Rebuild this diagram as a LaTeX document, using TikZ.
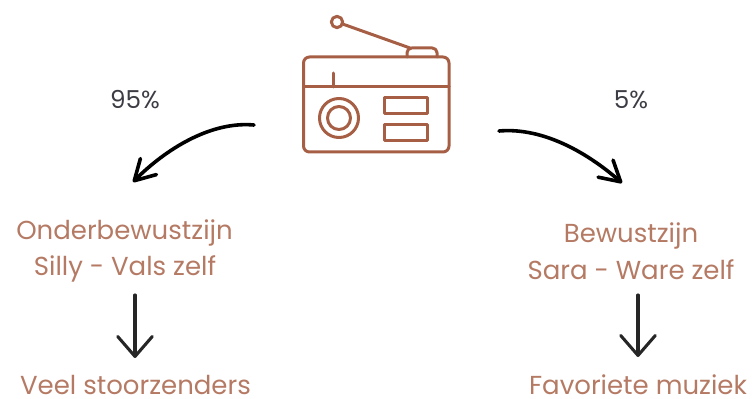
\documentclass[tikz,border=0pt]{standalone}
\usepackage{fontspec}
\setmainfont{Poppins}
\usetikzlibrary{arrows.meta}
\definecolor{icon}{HTML}{A65F45}
\definecolor{label}{HTML}{B57A64}
\definecolor{pct}{HTML}{3C3C44}
\tikzset{
  x=0.75pt,y=-0.75pt,
  iconline/.style={draw=icon,line width=2.25pt,line cap=round,line join=round},
  lab/.style={text=label,anchor=base,inner sep=0pt,font=\fontsize{19.5}{22}\selectfont},
  pctlab/.style={text=pct,anchor=base,inner sep=0pt,font=\fontsize{18.5}{22}\selectfont},
  curved/.style={draw=black,line width=2.7pt,line cap=round,-{Straight Barb[length=15pt,width=17pt,round]}},
  down/.style={draw=black!85,line width=2.3pt,line cap=round,-{Straight Barb[length=15pt,width=26pt,round]}},
}
\begin{document}
\begin{tikzpicture}
\useasboundingbox (0,0) rectangle (753,399);
% radio icon
\draw[iconline,rounded corners=4.5pt] (303.5,57) rectangle (449,152);
\draw[iconline] (303.5,87) -- (449,87);
\draw[iconline] (333,73) -- (333,87);
\draw[iconline] (339,118) circle[radius=19.5];
\draw[iconline] (339,118) circle[radius=11.5];
\draw[iconline] (384,98) rectangle (427,114);
\draw[iconline] (384,125) rectangle (427,141);
\node[circle,iconline,minimum size=8.5pt,inner sep=0pt] (ball) at (337,22) {};
\coordinate (mast) at (410,48);
\draw[iconline] (ball) -- (mast);
\draw[iconline,rounded corners=3.5pt] (407,57) -- (407,48) -- (437,48) -- (437,57);
% labels
\node[pctlab] (p95) at (135,109) {95\%};
\node[pctlab] (p5) at (631,109) {5\%};
\node[lab] (onder) at (124.5,239) {Onderbewustzijn};
\node[lab] (silly) at (125,275) {Silly - Vals zelf};
\node[lab] (veel) at (135.5,394.5) {Veel stoorzenders};
\node[lab] (bew) at (631,243) {Bewustzijn};
\node[lab] (sara) at (631,279) {Sara - Ware zelf};
\node[lab] (fav) at (638,394.5) {Favoriete muziek};
% connector ends
\coordinate (la) at (254,125);
\coordinate (lb) at (133,182);
\coordinate (ra) at (499,131);
\coordinate (rb) at (622,183);
\coordinate (dl1) at (135,295);
\coordinate (dl2) at (135,358);
\coordinate (dr1) at (638,295);
\coordinate (dr2) at (638,357);
\draw[curved] (la) .. controls (210,121) and (165,150) .. (lb);
\draw[curved] (ra) .. controls (545,127) and (590,155) .. (rb);
\draw[down] (dl1) -- (dl2);
\draw[down] (dr1) -- (dr2);
\end{tikzpicture}
\end{document}
